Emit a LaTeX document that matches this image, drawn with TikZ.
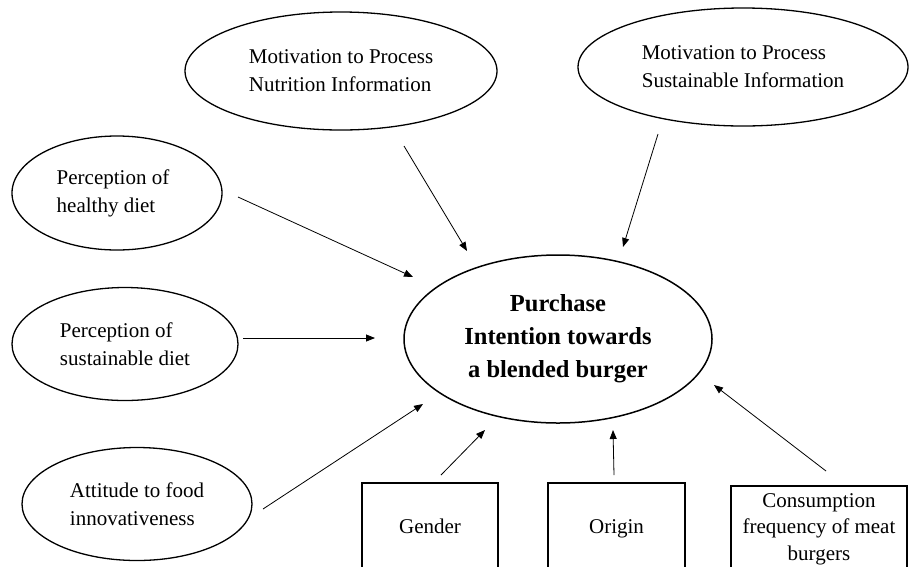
\documentclass[tikz,border=0pt]{standalone}
\usepackage{fontspec}
\setmainfont{Liberation Serif}
\usetikzlibrary{shapes.geometric,arrows.meta}
\tikzset{
  oval/.style={draw, ellipse, line width=1.3pt, inner sep=0pt, align=left,
    font=\fontsize{21}{28}\selectfont},
  mainoval/.style={draw, ellipse, line width=1.5pt, inner sep=0pt, align=center,
    font=\fontsize{24.5}{33}\selectfont\bfseries},
  ctrlbox/.style={draw, rectangle, line width=1.3pt, inner sep=0pt, align=center,
    font=\fontsize{21}{26.5}\selectfont},
  arr/.style={line width=0.8pt, -{Triangle[length=9pt,width=7pt]}}
}
\begin{document}
\begin{tikzpicture}[x=1pt,y=-1pt]
\clip (0,0) rectangle (909,566);
\fill[white] (0,0) rectangle (909,566);

\node[mainoval, minimum width=308pt, minimum height=168pt] (pi) at (558,339)
  {Purchase\\Intention towards\\a blended burger};

\node[oval, minimum width=312pt, minimum height=118pt] (mn) at (341,71)
  {Motivation to Process\\Nutrition Information};
\node[oval, minimum width=330pt, minimum height=118pt] (ms) at (743,67)
  {Motivation to Process\\Sustainable Information};
\node[oval, minimum width=210pt, minimum height=114pt] (ph) at (117,193)
  {\hspace*{-8pt}Perception of\\\hspace*{-8pt}healthy diet};
\node[oval, minimum width=226pt, minimum height=113pt] (ps) at (125,344)
  {Perception of\\sustainable diet};
\node[oval, minimum width=230pt, minimum height=113pt] (af) at (137,504)
  {Attitude to food\\innovativeness};

\node[ctrlbox, minimum width=136pt, minimum height=90pt] (g) at (430,528) {\strut Gender};
\node[ctrlbox, minimum width=137pt, minimum height=90pt] (o) at (616.5,528) {\strut Origin};
\node[ctrlbox, minimum width=176pt, minimum height=86pt] (c) at (819,529)
  {Consumption\\frequency of meat\\burgers};

% arrow end points (arrows float between the shapes)
\coordinate (mnA) at (404,146);  \coordinate (mnB) at (467,251);
\coordinate (msA) at (658,134);  \coordinate (msB) at (623,247);
\coordinate (phA) at (238,197);  \coordinate (phB) at (413,277);
\coordinate (psA) at (243,338);  \coordinate (psB) at (375,338);
\coordinate (afA) at (263,509);  \coordinate (afB) at (423,404);
\coordinate (gA)  at (441,475);  \coordinate (gB)  at (485,430);
\coordinate (oA)  at (614,475);  \coordinate (oB)  at (613,430);
\coordinate (cA)  at (826,471);  \coordinate (cB)  at (714,385);

\draw[arr] (mnA) -- (mnB);
\draw[arr] (msA) -- (msB);
\draw[arr] (phA) -- (phB);
\draw[arr] (psA) -- (psB);
\draw[arr] (afA) -- (afB);
\draw[arr] (gA) -- (gB);
\draw[arr] (oA) -- (oB);
\draw[arr] (cA) -- (cB);
\end{tikzpicture}
\end{document}
